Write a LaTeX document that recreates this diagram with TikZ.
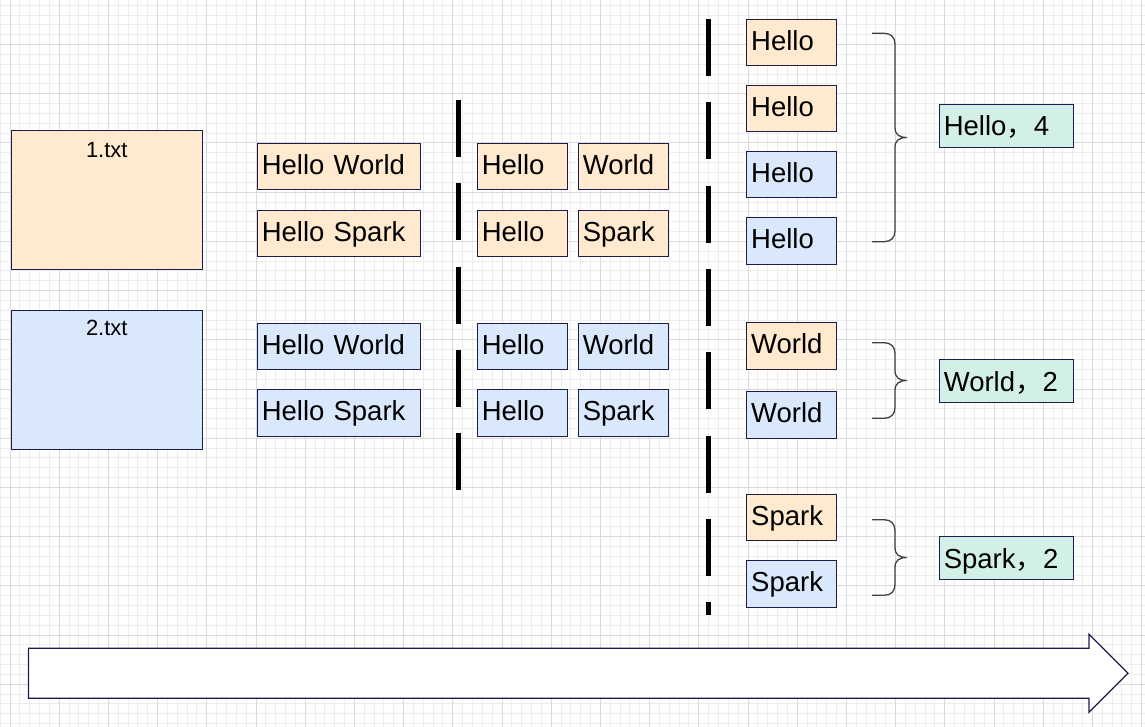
\documentclass[tikz,border=0pt]{standalone}
\usepackage{fontspec}
\setmainfont{Liberation Sans}
\newfontfamily\cjk{Noto Sans CJK SC}
\definecolor{bord}{HTML}{1C1C4A}
\definecolor{orf}{HTML}{FFE9CF}
\definecolor{blf}{HTML}{DAE8FC}
\definecolor{grf}{HTML}{D2F0E8}
\definecolor{gminor}{HTML}{EDEDED}
\definecolor{gmajor}{HTML}{DADADA}
\definecolor{bracec}{HTML}{404040}
\tikzset{
  gridminor/.style={gminor, line width=1pt},
  gridmajor/.style={gmajor, line width=1pt},
  cellbox/.style={draw=bord, line width=1.2pt, outer sep=0pt, inner ysep=0pt, inner xsep=4.5pt,
    anchor=north west, align=left, text height=21pt, text depth=5.6pt, minimum height=46.5pt,
    font=\fontsize{27.5}{30}\selectfont},
  wide/.style={text width=154pt},
  narrow/.style={text width=81pt},
  resbox/.style={cellbox, fill=grf, text width=125pt, minimum height=43pt, text height=22pt, text depth=1.6pt},
  org/.style={fill=orf},
  blu/.style={fill=blf},
  filebox/.style={draw=bord, line width=1.2pt, outer sep=0pt, inner sep=0pt, anchor=north west,
    minimum width=191pt, minimum height=139pt},
  filelbl/.style={anchor=base, font=\fontsize{22}{24}\selectfont, inner sep=0pt},
  sepline/.style={line width=5pt, dash pattern=on 57pt off 26.3pt},
  bracepath/.style={draw=bracec, line width=1.3pt},
  bigarrow/.style={draw=bord, line width=1.2pt, fill=white, line join=miter}
}
\begin{document}
\begin{tikzpicture}[x=1pt,y=-1pt]
\useasboundingbox (0,0) rectangle (1145,727);
\fill[white] (0,0) rectangle (1145,727);
% grid
\foreach \i in {0,...,116} \draw[gridminor] (0.16+9.84*\i,0) -- (0.16+9.84*\i,727);
\foreach \j in {0,...,73} \draw[gridminor] (0,5.24+9.84*\j) -- (1145,5.24+9.84*\j);
\foreach \i in {0,...,23} \draw[gridmajor] (10+49.2*\i,0) -- (10+49.2*\i,727);
\foreach \j in {0,...,13} \draw[gridmajor] (0,44.6+49.2*\j) -- (1145,44.6+49.2*\j);

% files
\node[filebox, fill=orf] (f1) at (11.3,130.3) {};
\node[filelbl] (f1t) at (106.8,157.3) {1.txt};
\node[filebox, fill=blf] (f2) at (11.3,310.3) {};
\node[filelbl] (f2t) at (106.8,335.7) {2.txt};

% lines
\node[cellbox, wide, org] (l1) at (257.3,143.3) {Hello World};
\node[cellbox, wide, org] (l2) at (257.3,210.3) {Hello Spark};
\node[cellbox, wide, blu] (l3) at (257.3,323.3) {Hello World};
\node[cellbox, wide, blu] (l4) at (257.3,389.8) {Hello Spark};

% words
\node[cellbox, narrow, org] (w1) at (477.3,143.3) {Hello};
\node[cellbox, narrow, org] (w2) at (578.3,143.3) {World};
\node[cellbox, narrow, org] (w3) at (477.3,210.3) {Hello};
\node[cellbox, narrow, org] (w4) at (578.3,210.3) {Spark};
\node[cellbox, narrow, blu] (w5) at (477.3,323.3) {Hello};
\node[cellbox, narrow, blu] (w6) at (578.3,323.3) {World};
\node[cellbox, narrow, blu] (w7) at (477.3,389.8) {Hello};
\node[cellbox, narrow, blu] (w8) at (578.3,389.8) {Spark};

% grouped
\node[cellbox, narrow, org] (g1) at (746.7,19.3) {Hello};
\node[cellbox, narrow, org] (g2) at (746.7,85.3) {Hello};
\node[cellbox, narrow, blu] (g3) at (746.7,151.3) {Hello};
\node[cellbox, narrow, blu] (g4) at (746.7,217.8) {Hello};
\node[cellbox, narrow, org] (g5) at (746.7,322.7) {World};
\node[cellbox, narrow, blu] (g6) at (746.7,391.8) {World};
\node[cellbox, narrow, org] (g7) at (746.7,494.3) {Spark};
\node[cellbox, narrow, blu] (g8) at (746.7,560.8) {Spark};

% results
\node[resbox] (r1) at (939.3,104.3) {Hello{\cjk ，}4};
\node[resbox] (r2) at (939.3,359.7) {World{\cjk ，}2};
\node[resbox] (r3) at (939.3,536.7) {Spark{\cjk ，}2};

% separators
\coordinate (s1a) at (458.7,100);
\coordinate (s1b) at (458.7,490);
\coordinate (s2a) at (708.3,19);
\coordinate (s2b) at (708.3,615);
\draw[sepline] (s1a) -- (s1b);
\draw[sepline] (s2a) -- (s2b);

% braces
\foreach \t/\b/\m in {33.3/241.7/137.5, 342.7/418.3/380.5, 519.7/595.3/557.5}{
  \draw[bracepath] (872,\t) -- (884,\t) .. controls (891,\t) and (895,\t+4) .. (895,\t+11)
    -- (895,\m-10) .. controls (895,\m-3) and (899,\m) .. (907,\m)
    .. controls (899,\m) and (895,\m+3) .. (895,\m+10)
    -- (895,\b-11) .. controls (895,\b-4) and (891,\b) .. (884,\b) -- (872,\b);
}

% big arrow
\draw[bigarrow] (28.5,648.3) -- (1089,648.3) -- (1089,634.3) -- (1128,673.3)
  -- (1089,712.3) -- (1089,698.3) -- (28.5,698.3) -- cycle;
\end{tikzpicture}
\end{document}
